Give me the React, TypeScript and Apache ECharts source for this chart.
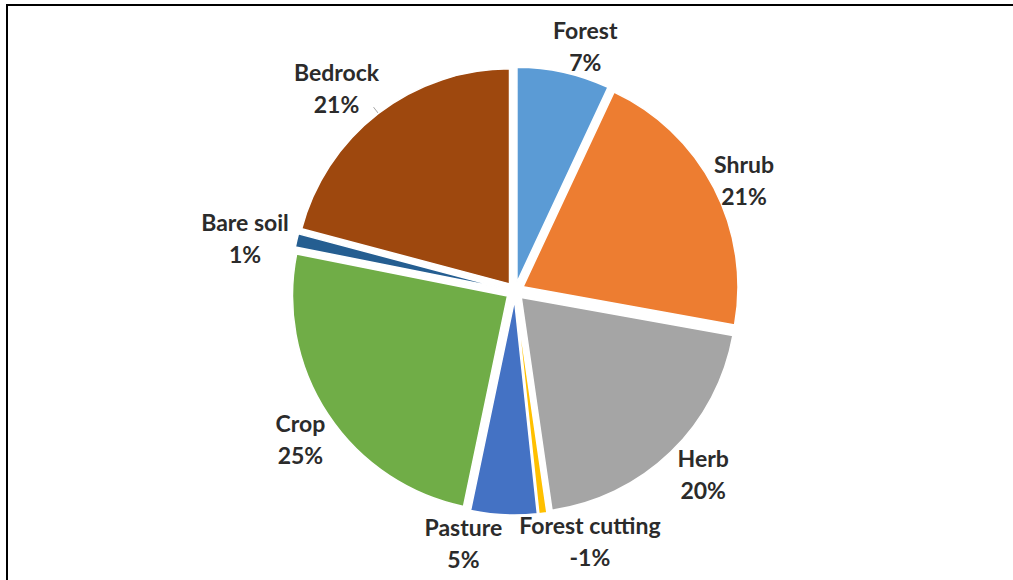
import React, { useEffect, useRef } from "react";
import * as echarts from "echarts";

const categories = ["Forest", "Shrub", "Herb", "Forest cutting", "Pasture", "Crop", "Bare soil", "Bedrock"];
const shares = [7, 21, 20, -0.6, 5, 25, 1, 21];
const colors = ["#5B9BD5", "#ED7D31", "#A5A5A5", "#FFC000", "#4472C4", "#70AD47", "#255E91", "#9E480E"];
const labelDx = [15, 18, 22, 41, -35, -16, -39, -32];
const labelDy = [-19, -4, 16, 20, 20, 20, -1, -19];
const showLeader = [false, false, false, false, false, false, false, true];

export default function App() {
  const ref = useRef<HTMLDivElement>(null);
  useEffect(() => {
    const chart = echarts.init(ref.current!, null, { renderer: "svg" });
    chart.setOption({
      animation: false,
      backgroundColor: "#ffffff",
      graphic: [
        {
          type: "polyline",
          shape: { points: [[7, 580], [7, 5], [1013, 5]] },
          style: { stroke: "#000", lineWidth: 2, fill: null },
        },
      ],
      series: [
        {
          type: "pie",
          center: [515, 291],
          radius: 215,
          startAngle: 90,
          clockwise: true,
          selectedMode: "multiple",
          selectedOffset: 9,
          avoidLabelOverlap: false,
          itemStyle: { borderColor: "#fff", borderWidth: 1.5 },
          label: {
            show: true,
            position: "outside",
            formatter: (p: any) => `${p.name}\n${Math.round(shares[p.dataIndex])}%`,
            fontFamily: "Lato",
            fontWeight: "bold",
            fontSize: 23,
            lineHeight: 32,
            color: "#2b2b2b",
          },
          labelLine: { show: false, length: 8, length2: 0, lineStyle: { color: "#a6a6a6", width: 1 } },
          labelLayout: (p: any) => ({
            dx: labelDx[p.dataIndex],
            dy: labelDy[p.dataIndex],
            align: "center",
          }),
          emphasis: { disabled: true },
          data: categories.map((name, i) => ({
            name,
            value: Math.abs(shares[i]),
            selected: true,
            itemStyle: { color: colors[i] },
            labelLine: { show: showLeader[i] },
          })),
        },
      ],
    });
    return () => chart.dispose();
  }, []);
  return <div ref={ref} style={{ position: "absolute", left: 0, top: 0, width: 1013, height: 580 }} />;
}
